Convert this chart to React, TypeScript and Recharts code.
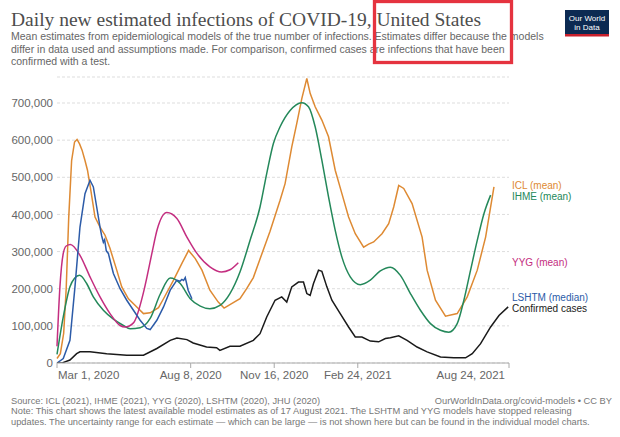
import React from "react";
import { LineChart, Line, XAxis, YAxis, CartesianGrid, LabelList } from "recharts";

// x values are days since 1 March 2020
const startDate = "2020-03-01";
const xTickDays = [0, 160, 260, 360, 541];
const xTickLabels = ["Mar 1, 2020", "Aug 8, 2020", "Nov 16, 2020", "Feb 24, 2021", "Aug 24, 2021"];
const yTicks = [0, 100000, 200000, 300000, 400000, 500000, 600000, 700000];

const seriesNames = ["ICL (mean)", "IHME (mean)", "YYG (mean)", "LSHTM (median)", "Confirmed cases"];
const seriesColors = ["#DE8A33", "#24885A", "#C42E80", "#2C5BA8", "#1a1a1a"];

const iclDays = [0, 4, 8, 11, 14, 17.5, 21, 24, 27, 30, 33.5, 36.5, 40.5, 45.5, 51.5, 57.5, 63.5, 71.5, 77.5, 85.5, 95.5, 103.5, 111.5, 121.5, 127.5, 139.5, 149.5, 157.5, 165.5, 173.5, 183, 193, 200, 209, 219, 227, 235, 243, 255, 267, 273, 281, 287, 293, 299, 303, 309, 317, 325, 333, 341, 349, 357, 367, 373, 379, 389, 397, 403, 409, 415, 425, 437, 443, 453, 465, 479, 491, 503, 513, 523];
const iclValues = [12, 25, 80, 200, 390, 545, 595, 602, 590, 573, 545, 519, 465, 393, 366, 344, 308, 250, 205, 173, 151, 133, 135, 149, 173, 223, 268, 303, 281, 250, 196, 164, 148, 160, 173, 200, 230, 280, 355, 438, 483, 582, 645, 712, 766, 726, 690, 654, 609, 519, 456, 393, 348, 312, 320, 326, 348, 375, 420, 478, 470, 429, 339, 250, 169, 126, 133, 178, 250, 339, 474];

const ihmeDays = [0, 7.5, 15.5, 21, 27, 35.5, 43.5, 55.5, 67.5, 79.5, 87.5, 99.5, 111.5, 123.5, 135.5, 147.5, 159.5, 171.5, 183, 195, 207, 219, 231, 243, 251, 259, 267, 279, 293, 301, 309, 317, 325, 333, 341, 351, 363, 375, 387, 399, 411, 423, 435, 447, 459, 469, 479, 487, 495, 503, 511, 519];
const ihmeValues = [23, 124, 205, 228, 236, 214, 178, 142, 118, 101, 92, 95, 120, 185, 229, 214, 173, 153, 146, 155, 187, 245, 330, 420, 510, 591, 636, 680, 701, 690, 636, 546, 447, 357, 285, 232, 211, 223, 248, 258, 236, 187, 142, 106, 88, 83, 106, 169, 250, 330, 402, 452];

const yygDays = [0, 3.5, 7.5, 11, 16, 27.5, 39.5, 51.5, 63.5, 75.5, 81.5, 91.5, 103.5, 108, 114, 120, 131.5, 143.5, 155.5, 167.5, 183, 197, 207, 217];
const yygValues = [45, 205, 295, 315, 319, 290, 232, 178, 133, 101, 97, 108, 190, 235, 300, 360, 405, 389, 339, 295, 259, 245, 251, 270];

const lshtmDays = [0, 7.5, 15.5, 21.5, 27.5, 33.5, 39.5, 43.5, 47.5, 51.5, 53.5, 55.5, 57, 59, 61.5, 64, 67.5, 75.5, 83.5, 91.5, 99.5, 107.5, 111.5, 119.5, 127.5, 135.5, 143.5, 147, 149.5, 151.5, 153.5, 157, 161.5];
const lshtmValues = [0, 12, 61, 205, 366, 456, 492, 474, 420, 366, 342, 325, 332, 302, 295, 272, 241, 200, 169, 142, 115, 93, 90, 115, 151, 196, 223, 220, 225, 222, 230, 196, 173];

const casesDays = [0, 7, 15.5, 23.5, 27.5, 39.5, 59.5, 83.5, 103.5, 119.5, 135.5, 143.5, 155.5, 163, 179, 191, 195, 207, 219, 235, 243, 251, 261, 269, 275, 281, 289, 295, 299, 303, 307, 313, 317, 323, 329, 339, 349, 357, 365, 375, 385, 393, 399, 409, 419, 431, 443, 459, 475, 489, 497, 507, 519, 529, 540];
const casesValues = [0, 1, 8, 25, 30, 30, 25, 21, 21, 39, 61, 67, 63, 54, 43, 41, 34, 45, 45, 61, 79, 124, 169, 178, 164, 205, 218, 218, 187, 182, 214, 250, 247, 205, 169, 133, 97, 70, 70, 59, 57, 66, 68, 73, 61, 43, 30, 16, 14, 14, 25, 52, 97, 128, 151];

const toRows = (days: number[], values: number[]) =>
  days.map((d, i) => ({ day: d, value: values[i] * 1000 }));

const seriesData = [
  toRows(iclDays, iclValues),
  toRows(ihmeDays, ihmeValues),
  toRows(yygDays, yygValues),
  toRows(lshtmDays, lshtmValues),
  toRows(casesDays, casesValues),
];
const seriesCurve: ("linear" | "monotone")[] = ["linear", "monotone", "monotone", "linear", "linear"];
const labelShift = [-1.5, 1.5, 0, -1.5, 1.5];

const W = 620;
const H = 437;
const xAxisHeight = 30;
const margin = { top: 77, right: 111, bottom: 44, left: 0 };
const yAxisWidth = 57;
const labelX = W - margin.right + 3;

const XTick = (props: any) => {
  const { x, y, payload, index } = props;
  const i = xTickDays.indexOf(payload.value);
  const label = i >= 0 ? xTickLabels[i] : "";
  let anchor: "start" | "middle" | "end" = "middle";
  let dx = 0;
  if (index === 0) { anchor = "start"; dx = 1; }
  if (i === xTickDays.length - 1) { anchor = "end"; dx = -4; }
  return (
    <text x={x + dx} y={y} dy="0.71em" textAnchor={anchor} fill="#666" fontSize={11.5} fontFamily="Liberation Sans, Arial, sans-serif">
      {label}
    </text>
  );
};

const makeEndLabel = (si: number) => (props: any) => {
  const { y, index } = props;
  if (index !== seriesData[si].length - 1) return null;
  return (
    <text x={labelX} y={y + labelShift[si]} dy="0.35em" fill={seriesColors[si]} fontSize={10} fontFamily="Liberation Sans, Arial, sans-serif">
      {seriesNames[si]}
    </text>
  );
};

export default function App() {
  return (
    <div style={{ position: "absolute", left: 0, top: 0, width: W, height: H, background: "#fff" }}>
      <LineChart width={W} height={H} margin={margin}>
        <CartesianGrid horizontal vertical={false} stroke="#ddd" strokeDasharray="3 2" />
        <XAxis
          dataKey="day"
          type="number"
          domain={[0, 541]}
          ticks={xTickDays}
          tick={<XTick />}
          height={xAxisHeight}
          tickSize={5}
          tickMargin={3}
          stroke="#aaa"
          allowDuplicatedCategory={false}
          interval={0}
        />
        <YAxis
          type="number"
          domain={[0, 770000]}
          ticks={yTicks}
          width={yAxisWidth}
          axisLine={false}
          tickLine={false}
          tickSize={0}
          tickMargin={4}
          interval={0}
          allowDataOverflow
          tick={{ fill: "#666", fontSize: 11.5, fontFamily: "Liberation Sans, Arial, sans-serif" }}
          tickFormatter={(v: number) => v.toLocaleString("en-US")}
        />
        {seriesData.map((rows, si) => (
          <Line
            key={seriesNames[si]}
            data={rows}
            dataKey="value"
            name={seriesNames[si]}
            type={seriesCurve[si]}
            stroke={seriesColors[si]}
            strokeWidth={1.5}
            dot={false}
            activeDot={false}
            isAnimationActive={false}
          >
            <LabelList dataKey="value" content={makeEndLabel(si)} />
          </Line>
        ))}
      </LineChart>
      <svg width={W} height={H} style={{ position: "absolute", left: 0, top: 0, pointerEvents: "none" }}>
        <text x={11} y={26} fill="#4d4d4d" fontSize={19.5} fontFamily="Liberation Serif, Times New Roman, serif">
          Daily new estimated infections of COVID-19, United States
        </text>
        <g fill="#666" fontSize={10.5} fontFamily="Liberation Sans, Arial, sans-serif">
          <text x={11} y={40}>Mean estimates from epidemiological models of the true number of infections. Estimates differ because the models</text>
          <text x={11} y={52.5}>differ in data used and assumptions made. For comparison, confirmed cases are infections that have been</text>
          <text x={11} y={65}>confirmed with a test.</text>
        </g>
        <rect x={565} y={10} width={44} height={26} fill="#0c2a52" />
        <rect x={565} y={34} width={44} height={2.5} fill="#c8202c" />
        <g fill="#fff" fontSize={8} fontFamily="Liberation Sans, Arial, sans-serif" textAnchor="middle">
          <text x={587} y={20.5}>Our World</text>
          <text x={587} y={29.5}>in Data</text>
        </g>
        <rect x={374.5} y={1.5} width={137} height={61} fill="none" stroke="#e5333f" strokeWidth={3.3} />
        <g fill="#777" fontSize={9.3} fontFamily="Liberation Sans, Arial, sans-serif">
          <text x={11} y={403.5}>Source: ICL (2021), IHME (2021), YYG (2020), LSHTM (2020), JHU (2020)</text>
          <text x={612} y={403.5} textAnchor="end">OurWorldInData.org/covid-models • CC BY</text>
          <text x={11} y={414}>Note: This chart shows the latest available model estimates as of 17 August 2021. The LSHTM and YYG models have stopped releasing</text>
          <text x={11} y={424.5}>updates. The uncertainty range for each estimate — which can be large — is not shown here but can be found in the individual model charts.</text>
        </g>
      </svg>
    </div>
  );
}
